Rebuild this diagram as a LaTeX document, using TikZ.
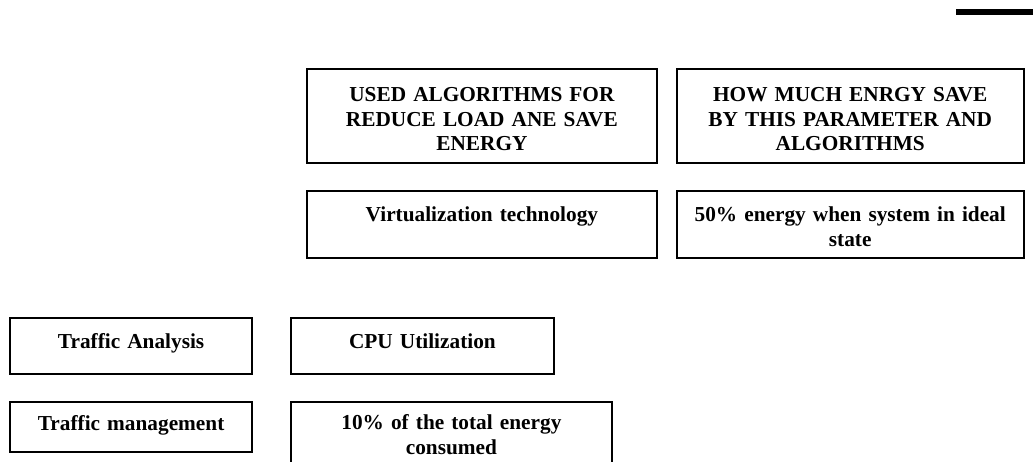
\documentclass[tikz,border=0pt]{standalone}
\usepackage{fontspec}
\setmainfont{Liberation Serif}
\usetikzlibrary{positioning}

\begin{document}
\begin{tikzpicture}[x=1pt,y=-1pt,node distance=26pt]
  \tikzstyle{box}=[draw,line width=1.8pt,inner sep=0pt,align=center,font=\bfseries\fontsize{21.3}{24.4}\selectfont]
  \tikzstyle{headbox}=[box,text height=33pt,text depth=61pt]
  \tikzstyle{midbox}=[box,text height=31pt,text depth=36pt]
  \tikzstyle{lowbox}=[box,text height=31pt,text depth=25pt]

  \path[use as bounding box,clip] (0,0) rectangle (1033,462);

  \fill (956,9) rectangle (1033,15);

  \node[headbox,text width=350pt,anchor=north west] (algohead) at (306,68) {USED ALGORITHMS FOR\\ REDUCE LOAD ANE SAVE\\ ENERGY};
  \node[headbox,text width=347pt] (savehead) [right=18pt of algohead] {HOW MUCH ENRGY SAVE\\ BY THIS PARAMETER AND\\ ALGORITHMS};
  \node[midbox,text width=350pt] (virt) [below=of algohead] {Virtualization technology};
  \node[midbox,text width=347pt] (idle) [below=of savehead] {50\% energy when system in ideal\\ state};

  \node[lowbox,text width=263pt,anchor=north west] (cpu) at (290,317) {CPU Utilization};
  \node[lowbox,text width=242pt] (trafan) [left=37pt of cpu] {Traffic Analysis};
  \node[box,text width=242pt,text height=29pt,text depth=21pt] (trafman) [below=of trafan] {Traffic management};
  \node[box,text width=321pt,text height=28pt,text depth=60pt] (tenpct) [below=of cpu.south west,anchor=north west] {10\% of the total energy\\ consumed};
\end{tikzpicture}
\end{document}
